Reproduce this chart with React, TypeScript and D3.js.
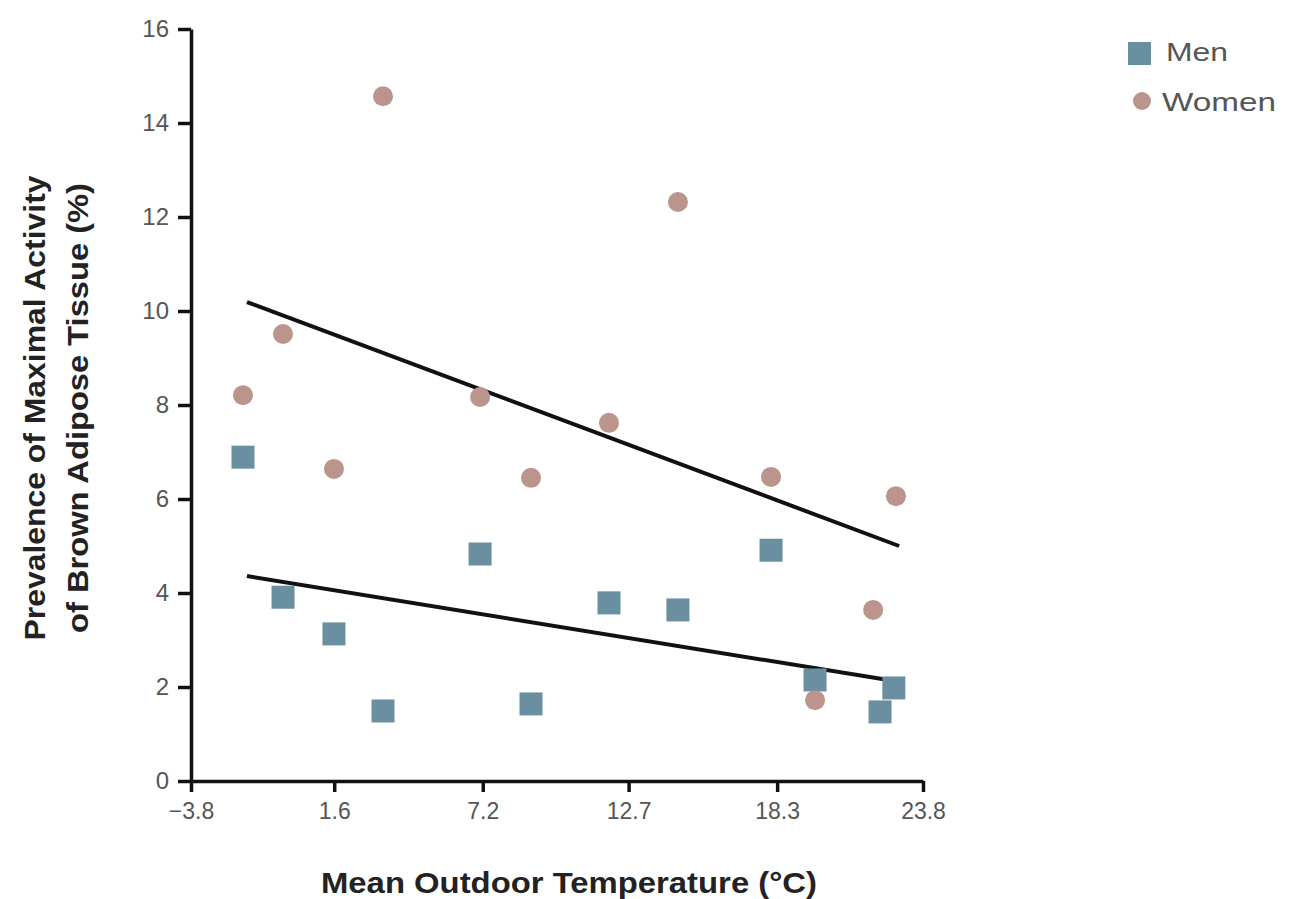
import { useEffect, useRef } from 'react';
import * as d3 from 'd3';

const X_TICKS = [-3.8, 1.6, 7.2, 12.7, 18.3, 23.8];
const Y_TICKS = [0, 2, 4, 6, 8, 10, 12, 14, 16];

// mean outdoor temperature per month (°C)
const MEN_TEMP = [-1.84, -0.33, 1.59, 3.44, 7.1, 9.02, 11.96, 14.56, 18.07, 19.73, 22.18, 22.7];
const MEN_PREV = [6.89, 3.91, 3.13, 1.49, 4.83, 1.64, 3.79, 3.64, 4.91, 2.15, 1.47, 1.98];

const WOMEN_TEMP = [-1.84, -0.33, 1.59, 3.44, 7.1, 9.02, 11.96, 14.56, 18.07, 19.73, 21.92, 22.78];
const WOMEN_PREV = [8.21, 9.51, 6.64, 14.57, 8.17, 6.45, 7.62, 12.32, 6.47, 1.72, 3.64, 6.06];

// fitted trend lines: [temperature, prevalence] end points
const MEN_FIT: [number, number][] = [[-1.69, 4.36], [22.9, 2.11]];
const WOMEN_FIT: [number, number][] = [[-1.69, 10.19], [22.9, 5.0]];

const MEN_COLOR = '#6a8fa0';
const WOMEN_COLOR = '#bb948b';
const FONT = '"Liberation Sans", Arial, sans-serif';

export default function App() {
  const svgRef = useRef<SVGSVGElement>(null);

  useEffect(() => {
    const W = 1289, H = 899;
    const svg = d3.select(svgRef.current);
    svg.selectAll('*').remove();

    const x = d3.scaleLinear().domain([-3.8, 23.8]).range([191, 923]);
    const y = d3.scaleLinear().domain([0, 16]).range([781, 29]);

    // X axis
    const xAxis = svg.append('g')
      .attr('transform', `translate(0,${y(0)})`)
      .call(d3.axisBottom(x).tickValues(X_TICKS).tickSize(11).tickSizeOuter(0).tickPadding(11)
        .tickFormat(d => `${d}`.replace('-', '\u2212')));
    xAxis.select('.domain').attr('stroke', '#111').attr('stroke-width', 3.5);
    xAxis.selectAll('.tick line').attr('stroke', '#111').attr('stroke-width', 3.5);
    xAxis.selectAll('.tick text').attr('fill', '#555').attr('font-size', 23).attr('font-family', FONT);

    // Y axis
    const yAxis = svg.append('g')
      .attr('transform', `translate(${x(-3.8)},0)`)
      .call(d3.axisLeft(y).tickValues(Y_TICKS).tickSize(13).tickSizeOuter(0).tickPadding(9));
    yAxis.select('.domain').attr('stroke', '#111').attr('stroke-width', 3.5);
    yAxis.selectAll('.tick line').attr('stroke', '#111').attr('stroke-width', 3.5);
    yAxis.selectAll('.tick text').attr('fill', '#555').attr('font-size', 24).attr('font-family', FONT);

    // Trend lines
    const line = d3.line<[number, number]>().x(d => x(d[0])).y(d => y(d[1]));
    [MEN_FIT, WOMEN_FIT].forEach(fit => {
      svg.append('path')
        .attr('d', line(fit))
        .attr('fill', 'none')
        .attr('stroke', '#111')
        .attr('stroke-width', 4);
    });

    // Men (squares)
    const SQ = 23;
    svg.append('g')
      .selectAll('rect')
      .data(MEN_TEMP.map((t, i) => [t, MEN_PREV[i]]))
      .join('rect')
      .attr('x', d => x(d[0]) - SQ / 2)
      .attr('y', d => y(d[1]) - SQ / 2)
      .attr('width', SQ)
      .attr('height', SQ)
      .attr('fill', MEN_COLOR);

    // Women (circles)
    svg.append('g')
      .selectAll('circle')
      .data(WOMEN_TEMP.map((t, i) => [t, WOMEN_PREV[i]]))
      .join('circle')
      .attr('cx', d => x(d[0]))
      .attr('cy', d => y(d[1]))
      .attr('r', 10)
      .attr('fill', WOMEN_COLOR);

    // Axis titles
    svg.append('text')
      .attr('x', 569)
      .attr('y', 893)
      .attr('text-anchor', 'middle')
      .attr('font-family', FONT)
      .attr('font-size', 30)
      .attr('font-weight', 700)
      .attr('fill', '#222')
      .attr('textLength', 496)
      .attr('lengthAdjust', 'spacingAndGlyphs')
      .text('Mean Outdoor Temperature (°C)');

    const yTitle = svg.append('text')
      .attr('transform', 'translate(0,408) rotate(-90)')
      .attr('text-anchor', 'middle')
      .attr('font-family', FONT)
      .attr('font-size', 30)
      .attr('font-weight', 700)
      .attr('fill', '#222');
    yTitle.append('tspan').attr('x', 0).attr('y', 45)
      .attr('textLength', 465).attr('lengthAdjust', 'spacingAndGlyphs')
      .text('Prevalence of Maximal Activity');
    yTitle.append('tspan').attr('x', 0).attr('y', 88)
      .attr('textLength', 450).attr('lengthAdjust', 'spacingAndGlyphs')
      .text('of Brown Adipose Tissue (%)');

    // Legend
    const legend = svg.append('g').attr('font-family', FONT).attr('font-size', 25).attr('fill', '#555');
    legend.append('rect').attr('x', 1128).attr('y', 42).attr('width', 23).attr('height', 23).attr('fill', MEN_COLOR);
    legend.append('text').attr('x', 1166).attr('y', 61)
      .attr('textLength', 62).attr('lengthAdjust', 'spacingAndGlyphs').text('Men');
    legend.append('circle').attr('cx', 1142).attr('cy', 101).attr('r', 9).attr('fill', WOMEN_COLOR);
    legend.append('text').attr('x', 1162).attr('y', 111)
      .attr('textLength', 114).attr('lengthAdjust', 'spacingAndGlyphs').text('Women');

    svg.attr('width', W).attr('height', H);
  }, []);

  return (
    <svg ref={svgRef} style={{ position: 'absolute', left: 0, top: 0, display: 'block', background: '#fff' }} />
  );
}
